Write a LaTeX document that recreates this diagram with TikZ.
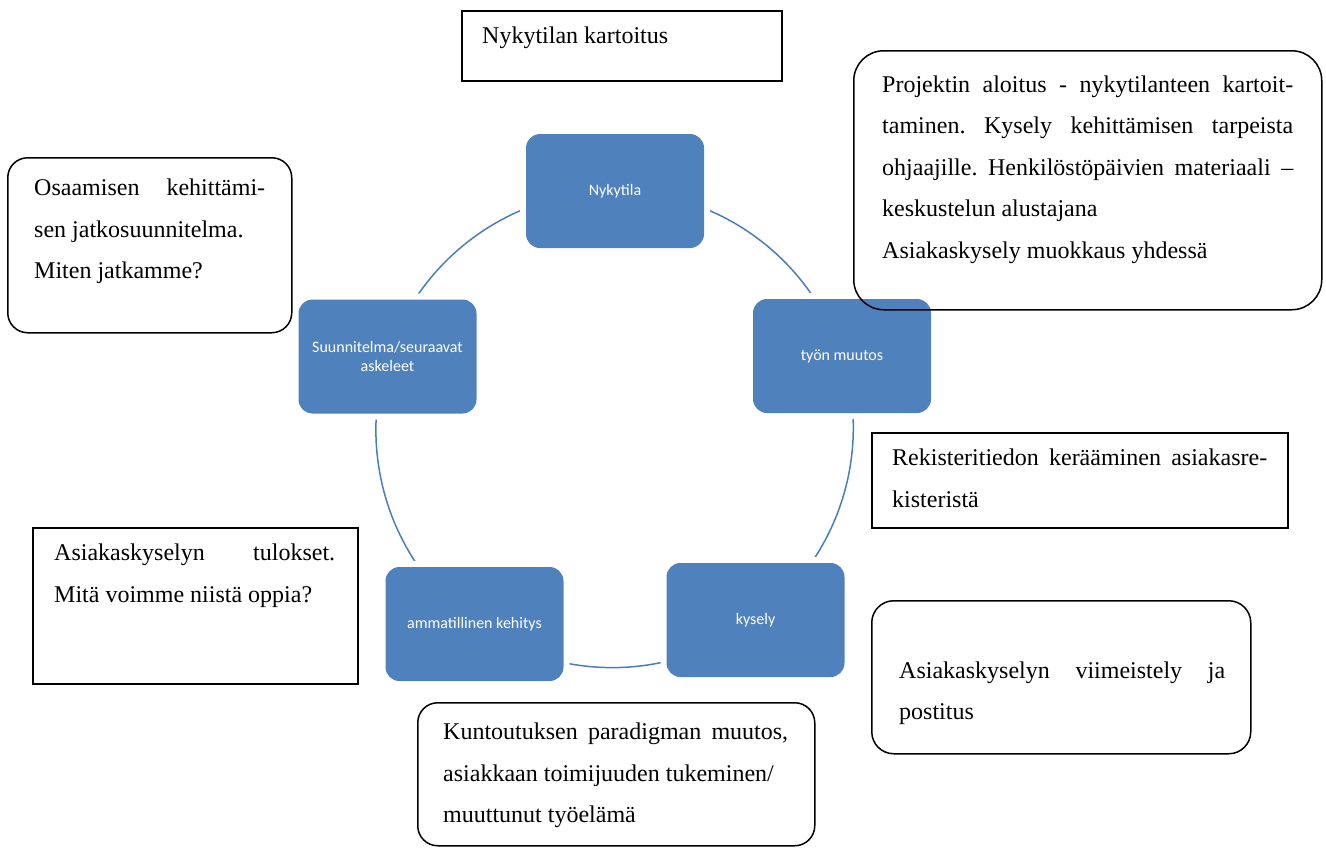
\documentclass[tikz,border=0pt]{standalone}
\usepackage{fontspec}
\setmainfont{Liberation Serif}
\newfontfamily\labelfont{Carlito}
\usetikzlibrary{backgrounds}
\definecolor{sablue}{HTML}{4F81BD}
\definecolor{arcblue}{HTML}{4A7EBB}
\setlength{\parindent}{0pt}
\hyphenpenalty=10000
\tolerance=10000
\hbadness=10000
\frenchspacing
\begin{document}
\begin{tikzpicture}[x=1pt,y=-1pt,
  cycbox/.style={rectangle, rounded corners=14pt, fill=sablue, minimum width=178pt, minimum height=114pt, inner sep=0pt, text=white, align=center, font=\labelfont\fontsize{16}{18.5}\selectfont, preaction={draw=white, line width=12pt}},
  sqbox/.style={rectangle, draw=black, line width=1.5pt, inner sep=0pt, anchor=north west},
  rndbox/.style={rectangle, draw=black, line width=1.5pt, inner sep=0pt, anchor=north west, rounded corners=#1},
  body/.style={anchor=north west, inner sep=0pt, text width=#1, align=justify, font=\frenchspacing\fontsize{24}{41.5}\selectfont},
  link/.style={draw=arcblue, line width=1.5pt, bend left=36, looseness=0.94}]
\useasboundingbox (0,0) rectangle (1326,847);

% cycle boxes
\node[cycbox] (nyk) at (615,191) {Nykytila};
\node[cycbox] (tyo) at (842,356) {työn muutos};
\node[cycbox] (kys) at (755.5,620) {kysely};
\node[cycbox] (amm) at (474.5,624) {ammatillinen kehitys};
\node[cycbox] (suu) at (387.5,356.5) {Suunnitelma/seuraavat\\askeleet};

\begin{pgfonlayer}{background}
\draw[link] (nyk.center) to (tyo.center);
\draw[link] (tyo.center) to (kys.center);
\draw[link] (kys.center) to (amm.center);
\draw[link] (amm.center) to (suu.center);
\draw[link] (suu.center) to (nyk.center);
\end{pgfonlayer}

% text boxes
\node[sqbox, minimum width=320pt, minimum height=70pt] (kart) at (461,10) {};
\node[anchor=base west, inner sep=0pt, font=\fontsize{24}{29}\selectfont] (kartT) at (482,43.5) {Nykytilan kartoitus};

\node[rndbox=30pt, minimum width=468pt, minimum height=259pt] (proj) at (853,50) {};
\node[body=411pt] (projT) at (882,74) {\rule{0pt}{18pt}Projektin aloitus - nykytilanteen kartoit-\linebreak taminen. Kysely kehittämisen tarpeista\linebreak ohjaajille. Henkilöstöpäivien materiaali –\linebreak keskustelun alustajana\par Asiakaskysely muokkaus yhdessä};

\node[rndbox=20pt, minimum width=284pt, minimum height=175pt] (osa) at (7,157) {};
\node[body=231pt] (osaT) at (34,177.5) {\rule{0pt}{18pt}Osaamisen kehittämi-\linebreak sen jatkosuunnitelma.\par Miten jatkamme?};

\node[sqbox, minimum width=416pt, minimum height=95pt] (rek) at (871,432) {};
\node[body=375pt] (rekT) at (892,447.5) {\rule{0pt}{18pt}Rekisteritiedon kerääminen asiakasre-\linebreak kisteristä};

\node[rndbox=22pt, minimum width=379pt, minimum height=153pt] (viim) at (871,600) {};
\node[body=326pt] (viimT) at (899,660) {\rule{0pt}{18pt}Asiakaskyselyn viimeistely ja\linebreak postitus};

\node[rndbox=20pt, minimum width=397pt, minimum height=143pt] (kunt) at (417,702) {};
\node[body=345pt] (kuntT) at (443,721.5) {\rule{0pt}{18pt}Kuntoutuksen paradigman muutos,\linebreak asiakkaan toimijuuden tukeminen/\par muuttunut työelämä};

\node[sqbox, minimum width=325pt, minimum height=156pt] (tul) at (32,527) {};
\node[body=281pt, font=\frenchspacing\fontsize{24}{42.5}\selectfont] (tulT) at (54,542) {\rule{0pt}{18pt}Asiakaskyselyn tulokset.\linebreak Mitä voimme niistä oppia?};
\end{tikzpicture}
\end{document}
